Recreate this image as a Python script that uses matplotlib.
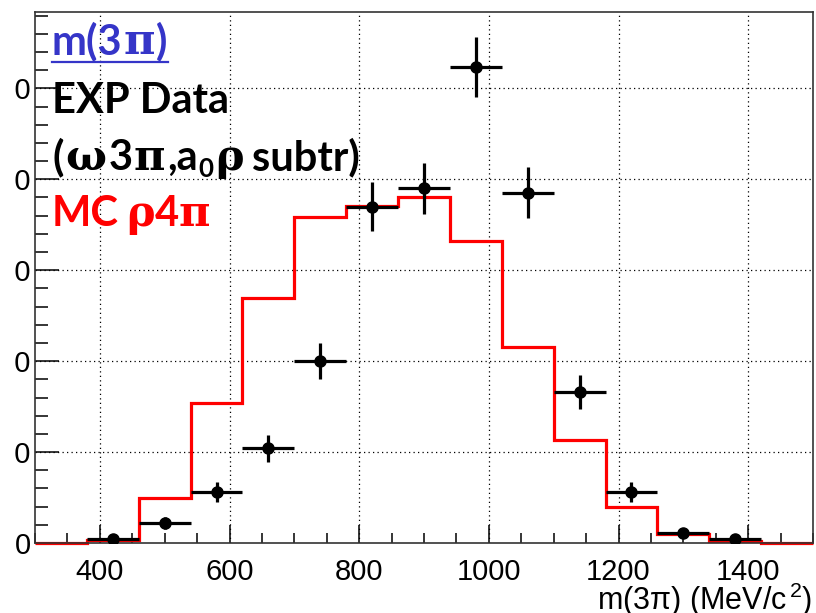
import matplotlib
matplotlib.use("Agg")
import matplotlib.pyplot as plt
from matplotlib.ticker import MultipleLocator, FixedLocator
from matplotlib.transforms import IdentityTransform
from matplotlib.patches import Rectangle
from matplotlib.lines import Line2D

# ---- data -------------------------------------------------------------
# MC rho 4pi histogram, 80 MeV/c^2 bins
bin_edges = [300, 380, 460, 540, 620, 700, 780, 860, 940, 1020,
             1100, 1180, 1260, 1340, 1420, 1500]
mc_counts = [0, 1.6, 25, 77, 134.5, 179, 185.5, 190.5, 166, 108,
             56.5, 20, 5, 1.3, 0]

# experimental points (background subtracted)
data_centers = [420, 500, 580, 660, 740, 820, 900, 980, 1060, 1140,
                1220, 1300, 1380]
data_counts = [2, 11, 28, 52, 100, 185, 195, 262, 192.5, 83, 28, 5.3, 2]
data_err = [1.4, 3.3, 5.3, 7.2, 10, 13.7, 14, 16.5, 14, 9.5, 5.3, 2.3, 1.4]
bin_half_width = 40

x_range = (300, 1500)
y_range = (0, 292)
x_major = [400, 600, 800, 1000, 1200, 1400]
y_major = [0, 50, 100, 150, 200, 250]

W, H, DPI = 816, 613, 100

plt.rcParams['font.family'] = ['Liberation Sans', 'DejaVu Sans']
plt.rcParams['mathtext.fontset'] = 'custom'
plt.rcParams['mathtext.rm'] = 'Liberation Sans'
plt.rcParams['mathtext.it'] = 'Liberation Sans'

fig = plt.figure(figsize=(W / DPI, H / DPI), dpi=DPI)
ax = fig.add_axes([35 / W, 1 - 543 / H, (813 - 35) / W, (543 - 12) / H])

# grid
for xv in x_major:
    ax.axvline(xv, color='black', lw=0.9, ls=(0, (1, 2.6)), zorder=0.5)
for yv in y_major[1:]:
    ax.axhline(yv, color='black', lw=0.9, ls=(0, (1, 2.6)), zorder=0.5)

# MC histogram
ax.stairs(mc_counts, bin_edges, color='#ff0000', lw=2.3, zorder=2,
          clip_on=False)

# data points
ax.errorbar(data_centers, data_counts, xerr=bin_half_width, yerr=data_err,
            fmt='o', color='black', ms=8, elinewidth=2.3, capsize=0,
            zorder=3)

ax.set_xlim(*x_range)
ax.set_ylim(*y_range)

ax.xaxis.set_major_locator(FixedLocator(x_major))
ax.xaxis.set_minor_locator(MultipleLocator(50))
ax.yaxis.set_major_locator(FixedLocator(y_major))
ax.yaxis.set_minor_locator(MultipleLocator(10))

ax.tick_params(axis='both', which='both', direction='in', color='black',
               width=1.1, labelsize=21, top=False, right=False)
ax.tick_params(axis='x', which='major', length=13, pad=11)
ax.tick_params(axis='x', which='minor', length=7)
ax.tick_params(axis='y', which='major', length=17, pad=3)
ax.tick_params(axis='y', which='minor', length=9)

for sp in ax.spines.values():
    sp.set_linewidth(1.2)
    sp.set_color('#333333')

# axis title, right aligned under the axis
fig.text(812, H - 610, r'm(3π) (MeV/c$^{\,2}$)', transform=IdentityTransform(),
         ha='right', va='baseline', fontsize=22)

# white strip at the left edge over the leading digits of the y labels
fig.patches.append(Rectangle((0, 0), 15, H - 30, transform=IdentityTransform(),
                             facecolor='white', edgecolor='none', zorder=10))

# ---- legend-like annotation in the upper left -------------------------
renderer = fig.canvas.get_renderer()
SANS = ['Lato', 'DejaVu Sans']
SERIF = ['DejaVu Serif', 'Liberation Serif']
FS = 30
GS = 31


def draw_runs(x_px, base_px, runs, color):
    """Place text runs left to right on one baseline (image pixel coords)."""
    x = x_px
    for s, fam, size, dy, gap in runs:
        x += gap
        t = fig.text(x, H - base_px + dy, s, transform=IdentityTransform(),
                     ha='left', va='baseline', fontsize=size,
                     fontweight='bold', family=fam, color=color, zorder=11)
        x += t.get_window_extent(renderer).width
    return x


blue = '#3535c8'
x_end = draw_runs(52, 54, [('m(3', SANS, FS, 0, 0),
                           ('π', SERIF, GS, 0, 1),
                           (')', SANS, FS, 0, 1)], blue)
fig.lines.append(Line2D([52, x_end], [H - 62, H - 62],
                        transform=IdentityTransform(), color=blue, lw=1.6))

draw_runs(52, 113, [('EXP Data', SANS, FS, 0, 0)], 'black')
draw_runs(52, 170, [('(', SANS, FS, 0, 0), ('ω', SERIF, GS, 0, 2),
                    ('3', SANS, FS, 0, 2), ('π', SERIF, GS, 0, 1),
                    (',a', SANS, FS, 0, 2), ('0', SANS, FS * 0.62, -7, 1),
                    ('ρ', SERIF, GS, 0, 1), ('subtr)', SANS, FS, 0, 9)],
          'black')
draw_runs(52, 226, [('MC', SANS, FS, 0, 0), ('ρ', SERIF, GS, 0, 7),
                    ('4', SANS, FS, 0, 0), ('π', SERIF, GS, 0, 0)],
          '#ff0000')

fig.savefig('out.png', dpi=DPI)
